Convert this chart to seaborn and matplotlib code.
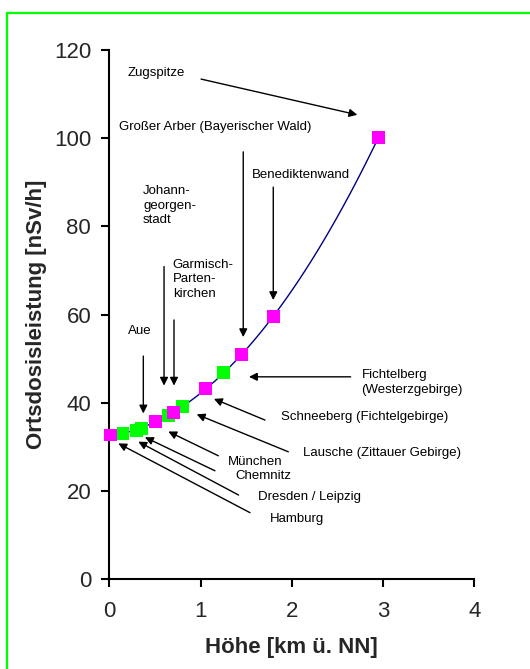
import matplotlib
matplotlib.use("Agg")
import matplotlib.pyplot as plt
import numpy as np
import pandas as pd
import seaborn as sns
from matplotlib.patches import Rectangle

# Messpunkte (Hoehe in km, Ortsdosisleistung in nSv/h)
magenta_hoehe = [0.01, 0.51, 0.70, 1.05, 1.45, 1.80, 2.95]
magenta_odl = [32.7, 35.7, 37.9, 43.3, 51.0, 59.5, 100.2]
green_hoehe = [0.15, 0.30, 0.355, 0.647, 0.80, 1.25]
green_odl = [33.1, 33.8, 34.2, 37.2, 39.1, 46.8]

x_ticks = [0, 1, 2, 3, 4]
y_ticks = [0, 20, 40, 60, 80, 100, 120]

# label, text position, arrow tail, arrow head (data coords)
annotations = [
    ("Zugspitze", (0.20, 114.7), (1.006, 113.4), (2.718, 105.3)),
    ("Großer Arber (Bayerischer Wald)", (0.11, 102.6), (1.468, 96.9), (1.468, 54.9)),
    ("Benediktenwand", (1.56, 91.7), (1.797, 88.9), (1.797, 63.3)),
    ("Johann-\ngeorgen-\nstadt", (0.37, 84.7), None, None),
    ("Garmisch-\nParten-\nkirchen", (0.695, 68.0), (0.60, 70.9), (0.60, 43.9)),
    ("", None, (0.709, 58.8), (0.709, 43.9)),
    ("Aue", (0.20, 56.3), (0.373, 50.6), (0.373, 37.6)),
    ("Fichtelberg\n(Westerzgebirge)", (2.764, 44.6), (2.645, 45.9), (1.531, 45.9)),
    ("Schneeberg (Fichtelgebirge)", (1.878, 36.7), (1.706, 36.1), (1.147, 40.9)),
    ("Lausche (Zittauer Gebirge)", (2.119, 28.6), (1.962, 28.9), (0.958, 37.4)),
    ("München", (1.298, 26.5), (1.195, 28.0), (0.647, 33.5)),
    ("Chemnitz", (1.378, 23.5), (1.158, 24.6), (0.391, 32.2)),
    ("Dresden / Leipzig", (1.633, 18.6), (1.417, 19.1), (0.318, 31.2)),
    ("Hamburg", (1.761, 13.6), (1.542, 15.1), (0.099, 30.8)),
]

sns.set_theme(style="white")
plt.rcParams["font.family"] = ["Liberation Sans", "DejaVu Sans"]

fig = plt.figure(figsize=(5.3, 6.69), dpi=100)
ax = fig.add_axes([0.2062, 0.1341, 0.6887, 0.7912])

all_df = pd.DataFrame({
    "hoehe": magenta_hoehe + green_hoehe,
    "odl": magenta_odl + green_odl,
})

# quadratic fit through all points
sns.regplot(data=all_df, x="hoehe", y="odl", order=2, ci=None, scatter=False,
            color="#000080", line_kws={"lw": 1.0, "zorder": 2}, ax=ax)
sns.scatterplot(x=green_hoehe, y=green_odl, marker="s", s=85, color="#00FF00",
                edgecolor="none", linewidth=0, zorder=3, clip_on=False, ax=ax)
sns.scatterplot(x=magenta_hoehe, y=magenta_odl, marker="s", s=85, color="#FF00FF",
                edgecolor="none", linewidth=0, zorder=4, clip_on=False, ax=ax)

for label, text_xy, tail, head in annotations:
    if text_xy is not None:
        ax.text(text_xy[0], text_xy[1], label, fontsize=9.5, ha="left", va="center",
                linespacing=1.3, color="black")
    if tail is not None:
        ax.annotate("", xy=head, xytext=tail,
                    arrowprops=dict(arrowstyle="-|>", color="black", lw=1.0,
                                    mutation_scale=12, shrinkA=0, shrinkB=0))

ax.set_xlim(0, 4)
ax.set_ylim(0, 120)
ax.set_xticks(x_ticks)
ax.set_yticks(y_ticks)
ax.set_xlabel("Höhe [km ü. NN]", fontsize=16, fontweight="bold", labelpad=11)
ax.set_ylabel("Ortsdosisleistung [nSv/h]", fontsize=16, fontweight="bold", labelpad=5)
ax.tick_params(axis="both", direction="out", length=5.5, width=1.5, labelsize=16,
               color="black", bottom=True, left=True)
ax.tick_params(axis="x", pad=10)
ax.tick_params(axis="y", pad=7.5)
sns.despine(ax=ax)
for side in ("left", "bottom"):
    ax.spines[side].set_linewidth(1.5)
    ax.spines[side].set_color("black")

# green frame around the picture
fig.add_artist(Rectangle((7 / 530, -0.1), 1.2, 1.1 - 13 / 669, fill=False,
                         edgecolor="#00FF00", lw=1.6, transform=fig.transFigure,
                         clip_on=False))

fig.savefig("out.png", dpi=100)
